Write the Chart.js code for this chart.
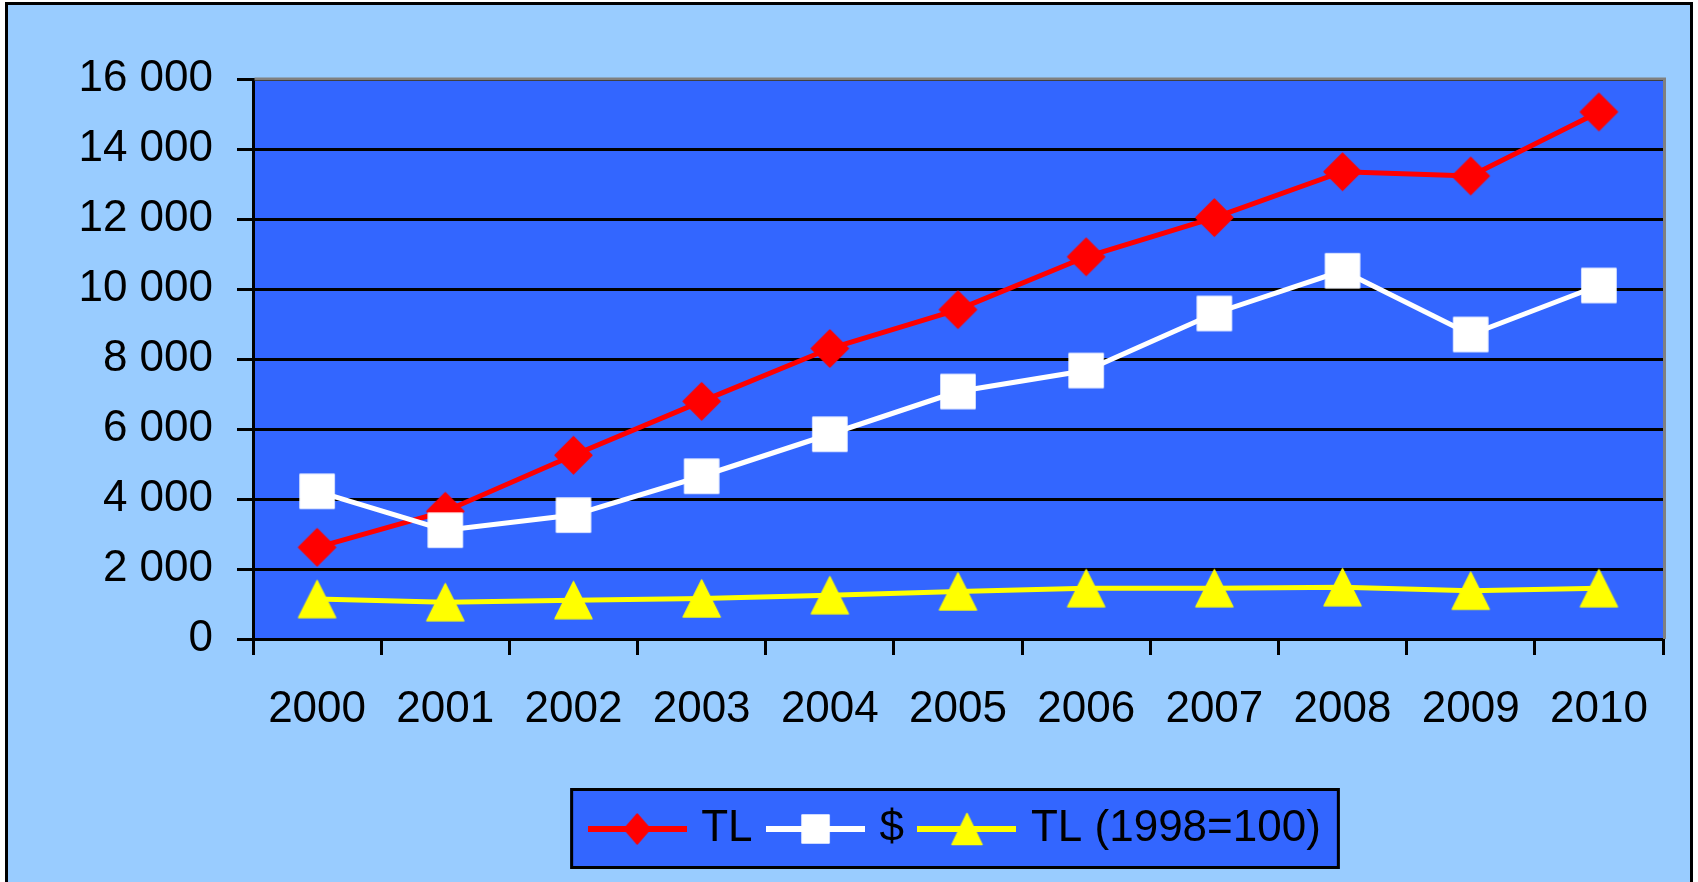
<!DOCTYPE html>
<html>
<head>
<meta charset="utf-8">
<script src="https://cdn.jsdelivr.net/npm/chart.js@4/dist/chart.umd.min.js"></script>
<style>
  html, body { margin: 0; padding: 0; background: #ffffff; }
  #wrap { width: 1698px; height: 882px; }
</style>
</head>
<body>
<div id="wrap"><canvas id="c" width="1698" height="882"></canvas></div>
<script>
// ---- data ----
const years = ['2000','2001','2002','2003','2004','2005','2006','2007','2008','2009','2010'];
const seriesTL = [2620, 3650, 5250, 6790, 8300, 9410, 10920, 12040, 13350, 13230, 15060];
const seriesUSD = [4220, 3110, 3540, 4650, 5850, 7070, 7670, 9300, 10520, 8700, 10100];
const seriesTLReal = [1140, 1050, 1110, 1160, 1250, 1360, 1450, 1450, 1480, 1380, 1450];
const seriesNames = ['TL', '$', 'TL (1998=100)'];
const yTicksMin = 0, yTicksMax = 16000, yTicksStep = 2000;

// ---- styles ----
const FONT = 'Liberation Sans, Arial, sans-serif';
const PLOT_BG = '#3366FF';
const PAGE_BG = '#99CCFF';
const colors = ['#FF0000', '#FFFFFF', '#FFFF00'];
const shapes = ['diamond', 'square', 'triangle'];

function drawShape(ctx, shape, cx, cy, w, h, color) {
  ctx.fillStyle = color;
  ctx.strokeStyle = color;
  ctx.lineJoin = 'round';
  ctx.lineWidth = 1.5;
  ctx.beginPath();
  if (shape === 'diamond') {
    ctx.moveTo(cx, cy - h / 2);
    ctx.lineTo(cx + w / 2, cy);
    ctx.lineTo(cx, cy + h / 2);
    ctx.lineTo(cx - w / 2, cy);
  } else if (shape === 'square') {
    ctx.rect(cx - w / 2, cy - h / 2, w, h);
  } else {
    ctx.moveTo(cx, cy - h / 2);
    ctx.lineTo(cx + w / 2, cy + h / 2);
    ctx.lineTo(cx - w / 2, cy + h / 2);
  }
  ctx.closePath();
  ctx.fill();
  ctx.stroke();
}

function makeMarker(shape, color, w, h) {
  const c = document.createElement('canvas');
  c.width = w + 4; c.height = h + 4;
  const ctx = c.getContext('2d');
  drawShape(ctx, shape, c.width / 2, c.height / 2, w, h, color);
  return c;
}

function makeLegendIcon(shape, color, w, h) {
  const c = document.createElement('canvas');
  c.width = 99; c.height = 36;
  const ctx = c.getContext('2d');
  ctx.fillStyle = color;
  ctx.fillRect(0, c.height / 2 - 3, c.width, 6);
  drawShape(ctx, shape, c.width / 2, c.height / 2, w, h, color);
  return c;
}

const markerSizes = [[37, 37], [34, 34], [37, 37]];
const legendMarkerSizes = [[26, 30], [27, 28], [30, 31]];
const markers = shapes.map((s, i) => makeMarker(s, colors[i], markerSizes[i][0], markerSizes[i][1]));
const legendIcons = shapes.map((s, i) => makeLegendIcon(s, colors[i], legendMarkerSizes[i][0], legendMarkerSizes[i][1]));

const bgPlugin = {
  id: 'bgPlugin',
  beforeDraw(chart) {
    const ctx = chart.ctx;
    const W = chart.width, H = chart.height;
    ctx.save();
    ctx.fillStyle = '#ffffff';
    ctx.fillRect(0, 0, W, H);
    ctx.fillStyle = PAGE_BG;
    ctx.fillRect(6, 3, W - 12, H + 10);
    ctx.strokeStyle = '#000';
    ctx.lineWidth = 3;
    ctx.strokeRect(6.5, 3.5, W - 13, H + 20);
    const a = chart.chartArea;
    ctx.fillStyle = PLOT_BG;
    ctx.fillRect(a.left, a.top, a.right - a.left, a.bottom - a.top);
    // legend box
    const lg = chart.legend;
    if (lg && lg.legendHitBoxes && lg.legendHitBoxes.length) {
      const hb = lg.legendHitBoxes;
      const first = hb[0], last = hb[hb.length - 1];
      const cy = first.top + first.height / 2;
      const l = first.left - 25, r = last.left + last.width + 19;
      const t = cy - 41, b = cy + 40;
      ctx.fillStyle = PLOT_BG;
      ctx.fillRect(l, t, r - l, b - t);
      ctx.strokeStyle = '#000';
      ctx.lineWidth = 3;
      ctx.strokeRect(l + 1.5, t + 1.5, r - l - 3, b - t - 3);
    }
    ctx.restore();
  },
  beforeDatasetsDraw(chart) {
    const ctx = chart.ctx;
    const a = chart.chartArea;
    ctx.save();
    ctx.strokeStyle = '#808080';
    ctx.lineWidth = 3;
    ctx.beginPath();
    ctx.moveTo(a.left + 1.5, a.top);
    ctx.lineTo(a.right + 1.5, a.top);
    ctx.lineTo(a.right + 1.5, a.bottom);
    ctx.stroke();
    ctx.restore();
  }
};

const datasetValues = [seriesTL, seriesUSD, seriesTLReal];
const drawOrder = [1, 0, 2];

new Chart(document.getElementById('c'), {
  type: 'line',
  data: {
    labels: years,
    datasets: datasetValues.map((vals, i) => ({
      label: seriesNames[i],
      data: vals,
      borderColor: colors[i],
      backgroundColor: colors[i],
      borderWidth: 5,
      tension: 0,
      fill: false,
      pointStyle: markers[i],
      pointRadius: 18,
      pointHoverRadius: 18,
      order: drawOrder[i]
    }))
  },
  options: {
    responsive: false,
    animation: false,
    devicePixelRatio: 1,
    layout: { padding: { top: 79, right: 35, bottom: 21, left: 0 } },
    plugins: {
      tooltip: { enabled: false },
      legend: {
        position: 'bottom',
        fullSize: false,
        labels: {
          usePointStyle: true,
          pointStyleWidth: 84,
          padding: 21,
          color: '#000',
          font: { family: FONT, size: 44 },
          generateLabels(chart) {
            return chart.data.datasets.map((ds, i) => ({
              text: ds.label,
              pointStyle: legendIcons[i],
              fillStyle: colors[i],
              strokeStyle: colors[i],
              lineWidth: 0,
              hidden: false,
              datasetIndex: i,
              fontColor: '#000'
            }));
          }
        }
      }
    },
    scales: {
      x: {
        type: 'category',
        offset: true,
        afterFit(scale) { scale.height = 147; },
        grid: {
          display: true,
          offset: true,
          drawOnChartArea: false,
          drawTicks: true,
          tickLength: 16,
          color: '#000',
          lineWidth: 3
        },
        border: { display: true, color: '#000', width: 3 },
        ticks: {
          color: '#000',
          padding: 28,
          maxRotation: 0,
          autoSkip: false,
          font: { family: FONT, size: 44 }
        }
      },
      y: {
        min: yTicksMin,
        max: yTicksMax,
        afterFit(scale) { scale.width = 253; },
        grid: {
          color: '#000',
          lineWidth: 3,
          tickLength: 16,
          drawTicks: true
        },
        border: { display: true, color: '#000', width: 3 },
        ticks: {
          stepSize: yTicksStep,
          color: '#000',
          padding: 24,
          font: { family: FONT, size: 44 },
          callback: (v) => String(v).replace(/\B(?=(\d{3})+(?!\d))/g, ' ')
        }
      }
    }
  },
  plugins: [bgPlugin]
});
</script>
</body>
</html>
